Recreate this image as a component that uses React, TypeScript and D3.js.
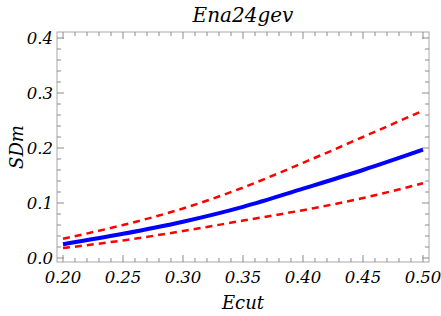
import * as d3 from "d3"

const ecut = [0.2, 0.25, 0.3, 0.35, 0.4, 0.45, 0.5]
const sdmCentral = [0.025, 0.044, 0.066, 0.093, 0.126, 0.16, 0.197]
const sdmUpper = [0.035, 0.06, 0.09, 0.128, 0.173, 0.22, 0.268]
const sdmLower = [0.018, 0.032, 0.049, 0.068, 0.087, 0.109, 0.136]
const xTicks = [0.2, 0.25, 0.3, 0.35, 0.4, 0.45, 0.5]
const yTicks = [0, 0.1, 0.2, 0.3, 0.4]

const W = 441
const H = 316
const frame = { left: 57, right: 429, top: 32, bottom: 262 }
const txt = { fontFamily: "'DejaVu Serif'", fontStyle: "italic" }
const tickColor = "#8c8c8c"

export default function App() {
  const x = d3.scaleLinear().domain([0.2, 0.5]).range([63, 423])
  const y = d3.scaleLinear().domain([0, 0.4]).range([258, 38])

  const line = d3.line<[number, number]>()
    .x(d => x(d[0]))
    .y(d => y(d[1]))
    .curve(d3.curveMonotoneX)

  const pts = (vals: number[]) => ecut.map((e, i) => [e, vals[i]] as [number, number])

  const xMinor = d3.range(0.2, 0.5001, 0.01).map(v => +v.toFixed(2))
  const yMinor = d3.range(0, 0.4001, 0.02).map(v => +v.toFixed(2))
  const isMajorX = (v: number) => xTicks.some(t => Math.abs(t - v) < 1e-6)
  const isMajorY = (v: number) => yTicks.some(t => Math.abs(t - v) < 1e-6)

  return (
    <svg width={W} height={H} style={{ position: "absolute", left: 0, top: 0 }}>
      <rect width={W} height={H} fill="#fff" />
      <text x={243} y={22} textAnchor="middle" style={txt} fontSize={20}>Ena24gev</text>

      <rect x={frame.left} y={frame.top} width={frame.right - frame.left} height={frame.bottom - frame.top}
        fill="none" stroke="#a8a8a8" strokeWidth={1} />

      {xMinor.map(v => {
        const len = isMajorX(v) ? 7 : 4
        return (
          <g key={"x" + v} stroke={tickColor} strokeWidth={1}>
            <line x1={x(v)} x2={x(v)} y1={frame.bottom} y2={frame.bottom - len} />
            <line x1={x(v)} x2={x(v)} y1={frame.top} y2={frame.top + len} />
          </g>
        )
      })}
      {yMinor.map(v => {
        const len = isMajorY(v) ? 7 : 4
        return (
          <g key={"y" + v} stroke={tickColor} strokeWidth={1}>
            <line x1={frame.left} x2={frame.left + len} y1={y(v)} y2={y(v)} />
            <line x1={frame.right} x2={frame.right - len} y1={y(v)} y2={y(v)} />
          </g>
        )
      })}

      {xTicks.map(v => (
        <text key={"xl" + v} x={x(v)} y={283} textAnchor="middle" style={txt} fontSize={16.5}>
          {d3.format(".2f")(v)}
        </text>
      ))}
      {yTicks.map(v => (
        <text key={"yl" + v} x={53} y={y(v) + 6} textAnchor="end" style={txt} fontSize={16.5}>
          {d3.format(".1f")(v)}
        </text>
      ))}

      <text x={243} y={309} textAnchor="middle" style={txt} fontSize={18}>Ecut</text>
      <text transform="translate(23,147) rotate(-90)" textAnchor="middle" style={txt} fontSize={18}>SDm</text>

      <path d={line(pts(sdmUpper)) ?? ""} fill="none" stroke="#ff0000" strokeWidth={2.5} strokeDasharray="7,5" />
      <path d={line(pts(sdmLower)) ?? ""} fill="none" stroke="#ff0000" strokeWidth={2.5} strokeDasharray="7,5" />
      <path d={line(pts(sdmCentral)) ?? ""} fill="none" stroke="#0000ff" strokeWidth={4} />
    </svg>
  )
}
